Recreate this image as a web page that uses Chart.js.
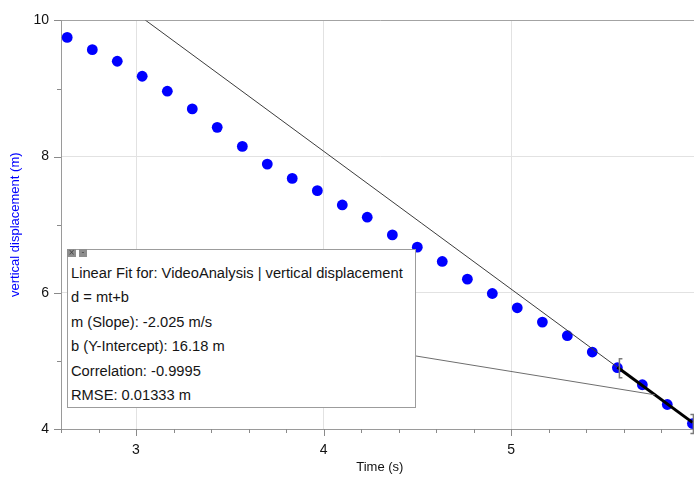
<!DOCTYPE html>
<html>
<head>
<meta charset="utf-8">
<script src="https://cdn.jsdelivr.net/npm/chart.js@4.4.1/dist/chart.umd.min.js"></script>
<style>
html,body{margin:0;padding:0;background:#fff;overflow:hidden;width:694px;height:477px;}
#wrap{position:absolute;left:0;top:0;width:704px;height:477px;}
#box{position:absolute;left:67px;top:249px;width:349px;height:159px;box-sizing:border-box;border:1px solid #9c9c9c;background:#fff;
 font-family:"Liberation Sans",Arial,Helvetica,sans-serif;font-size:14.7px;color:#151515;padding:11px 0 0 3px;line-height:24.4px;white-space:nowrap;}
.btn{position:absolute;top:-1px;height:8px;width:9px;background:#8e8e8e;color:#444;font-size:8px;line-height:8px;text-align:center;font-family:"DejaVu Sans",sans-serif;}
</style>
</head>
<body>
<div id="wrap"><canvas id="c" width="704" height="477"></canvas></div>
<div id="box">
  <span class="btn" style="left:-1px">×</span><span class="btn" style="left:11px;width:8px">-</span>
  <div>Linear Fit for: VideoAnalysis | vertical displacement</div>
  <div>d = mt+b</div>
  <div>m (Slope): -2.025 m/s</div>
  <div>b (Y-Intercept): 16.18 m</div>
  <div>Correlation: -0.9995</div>
  <div>RMSE: 0.01333 m</div>
</div>
<script>
// ---- data ----
const times = [2.633, 2.767, 2.900, 3.033, 3.167, 3.300, 3.433, 3.567, 3.700, 3.833, 3.967, 4.100, 4.233,
               4.367, 4.500, 4.633, 4.767, 4.900, 5.033, 5.167, 5.300, 5.433, 5.567, 5.700, 5.833, 5.967];
const displacement = [9.75, 9.57, 9.40, 9.18, 8.96, 8.70, 8.43, 8.15, 7.89, 7.68, 7.50, 7.29, 7.11,
                      6.85, 6.67, 6.46, 6.20, 5.99, 5.78, 5.57, 5.37, 5.13, 4.90, 4.65, 4.36, 4.08];
const fitSlope = -2.025;
const fitIntercept = 16.18;
const fitRange = [5.567, 5.967];     // selected region (brackets)
const xRange = [2.6, 6.0];
const yRange = [4, 10];
const xMajorLabels = [3, 4, 5, 6];
const yMajorLabels = [4, 6, 8, 10];

const fitAt = t => fitSlope * t + fitIntercept;
const points = times.map((t, i) => ({x: t, y: displacement[i]}));
const fullFit = xRange.map(t => ({x: t, y: fitAt(t)}));
const selFit = fitRange.map(t => ({x: t, y: fitAt(t)}));

const isInt = v => Math.abs(v - Math.round(v)) < 1e-6;
const FONT = '"Liberation Sans", Arial, Helvetica, sans-serif';

const tickPlugin = {
  id: 'tickMarks',
  afterDraw(chart) {
    const ctx = chart.ctx, xs = chart.scales.x, ys = chart.scales.y, a = chart.chartArea;
    ctx.save();
    ctx.strokeStyle = '#8a8a8a';
    ctx.lineWidth = 1;
    xs.ticks.forEach(tk => {
      const px = Math.round(xs.getPixelForValue(tk.value)) + 0.5;
      const len = xMajorLabels.some(v => Math.abs(v - tk.value) < 1e-6) ? 7 : 4;
      ctx.beginPath(); ctx.moveTo(px, a.bottom); ctx.lineTo(px, a.bottom + len); ctx.stroke();
    });
    ys.ticks.forEach(tk => {
      const py = Math.round(ys.getPixelForValue(tk.value)) + 0.5;
      const len = yMajorLabels.includes(Math.round(tk.value)) ? 7 : 4;
      ctx.beginPath(); ctx.moveTo(a.left, py); ctx.lineTo(a.left - len, py); ctx.stroke();
    });
    ctx.restore();
  },
  afterDatasetsDraw(chart) {
    const ctx = chart.ctx, xs = chart.scales.x, ys = chart.scales.y;
    ctx.save();
    // connector from the fit box to the middle of the fitted segment
    const midT = (fitRange[0] + fitRange[1]) / 2;
    ctx.strokeStyle = '#6e6e6e';
    ctx.lineWidth = 1;
    ctx.beginPath();
    ctx.moveTo(416, 356);
    ctx.lineTo(xs.getPixelForValue(midT), ys.getPixelForValue(fitAt(midT)));
    ctx.stroke();
    // brackets at the selection limits
    ctx.strokeStyle = '#7a7a7a';
    ctx.lineWidth = 1.5;
    const i0 = times.findIndex(t => Math.abs(t - fitRange[0]) < 1e-3);
    const i1 = times.findIndex(t => Math.abs(t - fitRange[1]) < 1e-3);
    const bx0 = xs.getPixelForValue(times[i0]) + 2, by0 = ys.getPixelForValue(displacement[i0]);
    ctx.beginPath();
    ctx.moveTo(bx0 + 3, by0 - 9); ctx.lineTo(bx0, by0 - 9); ctx.lineTo(bx0, by0 + 10); ctx.lineTo(bx0 + 3, by0 + 10);
    ctx.stroke();
    const bx1 = xs.getPixelForValue(times[i1]) + 1, by1 = ys.getPixelForValue(displacement[i1]);
    ctx.beginPath();
    ctx.moveTo(bx1 - 3, by1 - 9); ctx.lineTo(bx1, by1 - 9); ctx.lineTo(bx1, by1 + 10); ctx.lineTo(bx1 - 3, by1 + 10);
    ctx.stroke();
    ctx.restore();
  }
};

new Chart(document.getElementById('c'), {
  type: 'scatter',
  data: {
    datasets: [
      {type: 'line', data: selFit, borderColor: '#000', borderWidth: 3, pointRadius: 0, fill: false},
      {type: 'line', data: fullFit, borderColor: '#3c3c3c', borderWidth: 1, pointRadius: 0, fill: false},
      {data: points, backgroundColor: '#0000ff', borderWidth: 0, pointRadius: 5.4, pointHoverRadius: 5.4}
    ]
  },
  options: {
    responsive: false,
    animation: false,
    devicePixelRatio: 1,
    layout: {padding: {top: 13, right: 5, left: 0, bottom: 0}},
    plugins: {legend: {display: false}, tooltip: {enabled: false}},
    scales: {
      x: {
        type: 'linear', min: xRange[0], max: xRange[1],
        afterFit(s) { s.height = 48; s.paddingRight = 0; s.paddingLeft = 0; },
        border: {color: '#9a9a9a', width: 1},
        grid: {
          drawTicks: false,
          color: c => (c.tick && isInt(c.tick.value)) ? '#e2e2e2' : 'rgba(0,0,0,0)',
          lineWidth: 1
        },
        ticks: {
          stepSize: 0.2, autoSkip: false, maxRotation: 0, padding: 13,
          color: '#111', font: {family: FONT, size: 14},
          callback: v => xMajorLabels.some(m => Math.abs(m - v) < 1e-6) ? String(Math.round(v)) : ''
        },
        title: {display: true, text: 'Time (s)', color: '#111', font: {family: FONT, size: 13}, padding: {top: 0, bottom: 2}}
      },
      y: {
        type: 'linear', min: yRange[0], max: yRange[1],
        afterFit(s) { s.width = 61; },
        border: {color: '#9a9a9a', width: 1},
        grid: {
          drawTicks: false,
          color: c => {
            if (!c.tick) return 'rgba(0,0,0,0)';
            const v = Math.round(c.tick.value);
            if (v === yRange[1]) return '#a3a3a3';
            return yMajorLabels.includes(v) ? '#e2e2e2' : 'rgba(0,0,0,0)';
          },
          lineWidth: 1
        },
        ticks: {
          stepSize: 1, autoSkip: false, padding: 12,
          color: '#111', font: {family: FONT, size: 14},
          callback: v => yMajorLabels.includes(v) ? String(v) : ''
        },
        title: {display: true, text: 'vertical displacement (m)', color: '#0000ff', font: {family: FONT, size: 13}, padding: {top: 8, bottom: 0}}
      }
    }
  },
  plugins: [tickPlugin]
});
</script>
</body>
</html>
